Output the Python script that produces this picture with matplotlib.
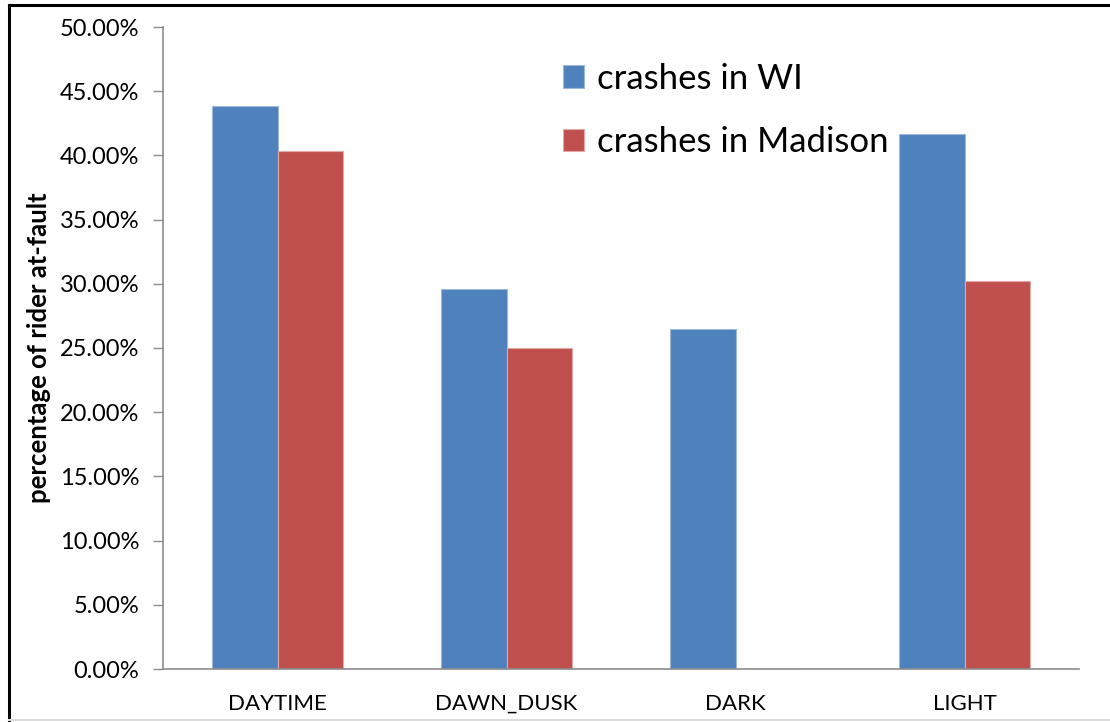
import matplotlib
matplotlib.use("Agg")
import matplotlib.pyplot as plt
import numpy as np
from matplotlib.lines import Line2D
from matplotlib.ticker import FuncFormatter, MultipleLocator

plt.rcParams['font.family'] = ['Lato', 'DejaVu Sans']

categories = ["DAYTIME", "DAWN_DUSK", "DARK", "LIGHT"]
wi_pct = [43.82, 29.62, 26.50, 41.70]
madison_pct = [40.34, 25.02, 0.0, 30.22]
series_names = ["crashes in WI", "crashes in Madison"]
colors = ["#4F81BD", "#C0504D"]

fig = plt.figure(figsize=(11.10, 7.22), dpi=100)
ax = fig.add_axes([163 / 1110, 53 / 722, 916 / 1110, 642 / 722])

x = np.arange(len(categories))
bw = 0.286
ax.bar(x - bw / 2, np.array(wi_pct) / 100, width=bw, color=colors[0],
       edgecolor="#9DB8DB", linewidth=0.8, label=series_names[0], zorder=2)
ax.bar(x + bw / 2, np.array(madison_pct) / 100, width=bw, color=colors[1],
       edgecolor="#E3A9A8", linewidth=0.8, label=series_names[1], zorder=2)

ax.set_xlim(-0.5, len(categories) - 0.5)
ax.set_ylim(0, 0.5)
ax.yaxis.set_major_locator(MultipleLocator(0.05))
ax.yaxis.set_major_formatter(FuncFormatter(lambda v, p: f"{v * 100:.2f}%"))
ax.set_xticks(x)
ax.set_xticklabels(categories)

for s in ("top", "right"):
    ax.spines[s].set_visible(False)
for s in ("left", "bottom"):
    ax.spines[s].set_color("#8C8C8C")
    ax.spines[s].set_linewidth(1.2)
ax.tick_params(axis="y", direction="out", length=7, width=1, color="#8C8C8C",
               labelsize=17, pad=10)
ax.tick_params(axis="x", length=0, labelsize=16, pad=18)

ax.set_ylabel("percentage of rider at-fault", fontsize=18.5, fontweight="bold",
              labelpad=6)

leg = ax.legend(loc="upper left", bbox_to_anchor=(0.403, 0.993), frameon=False,
                fontsize=25, handlelength=0.6, handleheight=0.6,
                handletextpad=0.38, labelspacing=0.9)

# outer frame of the chart area
fig.add_artist(Line2D([8.5 / 1110, 8.5 / 1110], [0, 717 / 722], transform=fig.transFigure,
                      color="black", lw=2.2))
fig.add_artist(Line2D([8.5 / 1110, 1], [717 / 722, 717 / 722], transform=fig.transFigure,
                      color="black", lw=2.2))
fig.add_artist(Line2D([8.5 / 1110, 1], [2 / 722, 2 / 722], transform=fig.transFigure,
                      color="#DDDDDD", lw=1.5))

fig.savefig("out.png", dpi=100)
